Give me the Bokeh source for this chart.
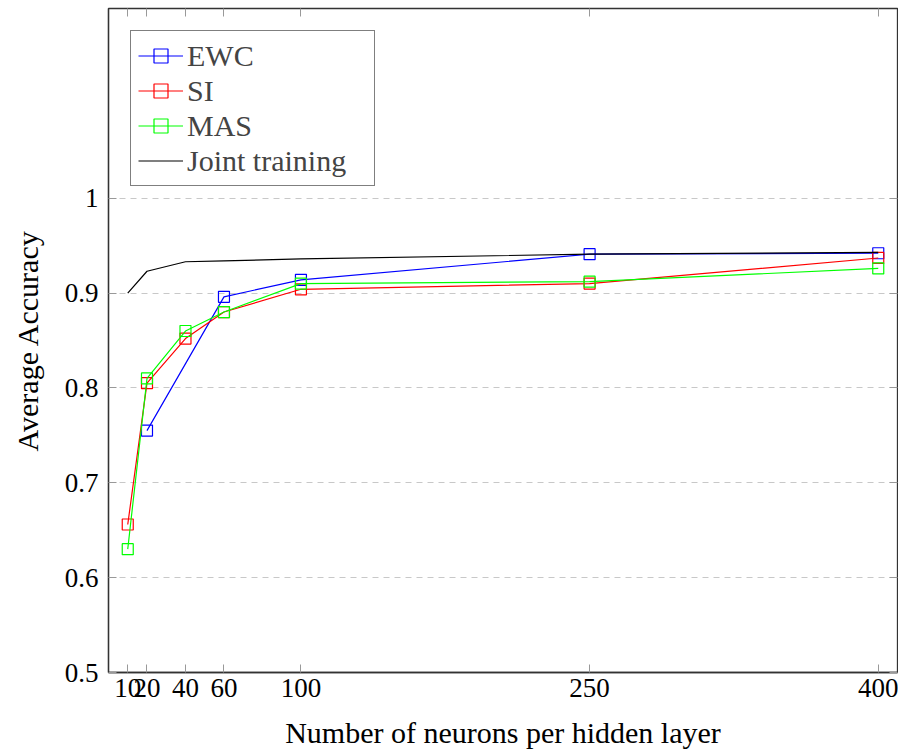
from bokeh.plotting import figure
from bokeh.models import (Range1d, FixedTicker, LinearAxis, Legend, LegendItem)
from bokeh.embed import file_html
from bokeh.resources import INLINE

neurons_ewc = [20, 60, 100, 250, 400]
acc_ewc = [0.755, 0.896, 0.914, 0.941, 0.942]
neurons = [10, 20, 40, 60, 100, 250, 400]
acc_si = [0.656, 0.805, 0.852, 0.880, 0.904, 0.910, 0.937]
acc_mas = [0.630, 0.810, 0.860, 0.880, 0.910, 0.912, 0.926]
acc_joint = [0.900, 0.923, 0.933, 0.934, 0.936, 0.941, 0.943]
x_ticks = [10, 20, 40, 60, 100, 250, 400]
y_ticks = [0.5, 0.6, 0.7, 0.8, 0.9, 1.0]

FONT = "Liberation Serif"

p = figure(frame_width=789, frame_height=664, output_backend="svg",
           toolbar_location=None, x_range=Range1d(0, 410), y_range=Range1d(0.5, 1.2),
           min_border_left=108, min_border_top=8, min_border_right=1, min_border_bottom=60)
p.background_fill_color = "white"
p.outline_line_color = "#333333"
p.outline_line_width = 1.3

p.xgrid.visible = False
p.ygrid.grid_line_color = "#c8c8c8"
p.ygrid.grid_line_dash = "6 5"
p.ygrid.grid_line_width = 1
p.ygrid.ticker = FixedTicker(ticks=y_ticks)

for ax, ticks in ((p.xaxis[0], x_ticks), (p.yaxis[0], y_ticks)):
    ax.ticker = FixedTicker(ticks=ticks)
    ax.major_tick_in = 8
    ax.major_tick_out = 0
    ax.minor_tick_in = 0
    ax.minor_tick_out = 0
    ax.major_tick_line_color = "#999999"
    ax.axis_line_color = "#333333"
    ax.axis_line_width = 1.3
    ax.major_label_text_font = FONT
    ax.major_label_text_font_size = "27px"
    ax.major_label_text_color = "black"
    ax.axis_label_text_font = FONT
    ax.axis_label_text_font_size = "30px"
    ax.axis_label_text_font_style = "normal"
    ax.axis_label_text_color = "black"

p.xaxis[0].axis_label = "Number of neurons per hidden layer"
p.yaxis[0].axis_label = "Average Accuracy"
p.xaxis[0].major_label_standoff = 6
p.yaxis[0].major_label_standoff = 10
p.xaxis[0].axis_label_standoff = 16
p.yaxis[0].axis_label_standoff = 18

# mirrored ticks top and right (labels not drawn)
for loc, ticks in (("above", x_ticks), ("right", y_ticks)):
    ax = LinearAxis(ticker=FixedTicker(ticks=ticks))
    ax.major_tick_in = 8
    ax.major_tick_out = 0
    ax.minor_tick_in = 0
    ax.minor_tick_out = 0
    ax.major_tick_line_color = "#999999"
    ax.axis_line_color = None
    ax.major_label_text_color = None
    ax.major_label_text_font_size = "1px"
    ax.major_label_standoff = 0
    p.add_layout(ax, loc)

items = []
for xs, ys, col, lab in ((neurons_ewc, acc_ewc, "#0000ff", "EWC"),
                         (neurons, acc_si, "#ff0000", "SI"),
                         (neurons, acc_mas, "#00ff00", "MAS")):
    l = p.line(xs, ys, line_color=col, line_width=1.2)
    s = p.scatter(xs, ys, marker="square", size=11, fill_color=None,
                  line_color=col, line_width=1.2)
    items.append(LegendItem(label=lab, renderers=[l, s]))

lj = p.line(neurons, acc_joint, line_color="black", line_width=1.2)
items.append(LegendItem(label="Joint training", renderers=[lj]))

legend = Legend(items=items, location="top_left", margin=22,
                border_line_color="black", border_line_width=1.2,
                background_fill_alpha=1, padding=7, spacing=0,
                label_height=35, glyph_height=35, glyph_width=45,
                label_standoff=4, label_width=180,
                label_text_font=FONT, label_text_font_size="30px")
p.add_layout(legend)

open("out.html", "w").write(file_html(p, INLINE))
